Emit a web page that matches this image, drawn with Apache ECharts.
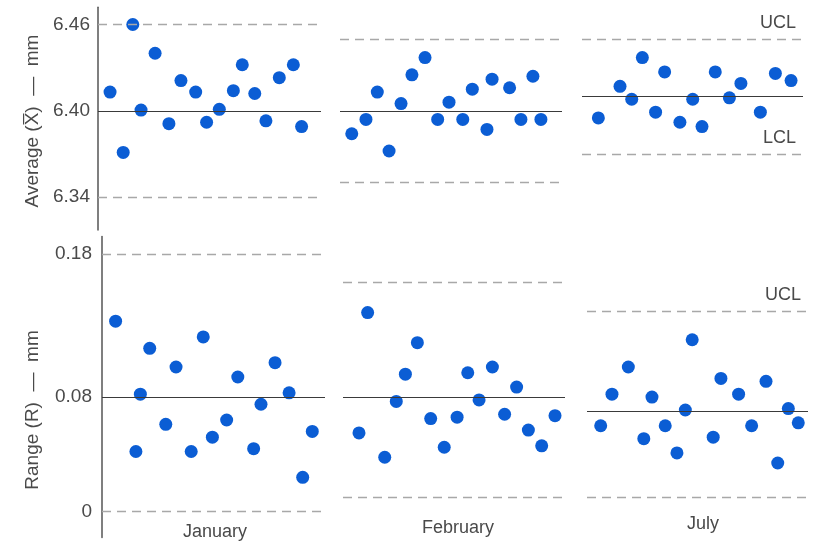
<!DOCTYPE html>
<html>
<head>
<meta charset="utf-8">
<script src="https://cdn.jsdelivr.net/npm/echarts@6/dist/echarts.min.js"></script>
<style>
  html, body { margin: 0; padding: 0; background: #ffffff; }
  #chart { width: 815px; height: 544px; }
</style>
</head>
<body>
<div id="chart"></div>
<script>
// X-bar and R control charts for three months of production.
const months = ['January', 'February', 'July'];
const xbarTicks = [6.34, 6.40, 6.46];
const rangeTicks = [0, 0.08, 0.18];

// Sample positions across each month (percent of the month) and subgroup averages (mm)
const janXbarPos = [5.4, 11.3, 15.6, 19.3, 25.6, 31.8, 37.2, 43.8, 48.7, 54.4, 60.7, 64.7, 70.3, 75.3, 81.3, 87.6, 91.3];
const janXbar    = [6.413, 6.371, 6.460, 6.4005, 6.440, 6.391, 6.421, 6.413, 6.392, 6.401, 6.414, 6.432, 6.412, 6.393, 6.423, 6.432, 6.389];
const febXbarPos = [5.3, 11.7, 16.8, 22.1, 27.5, 32.4, 38.3, 44.0, 49.1, 55.3, 59.6, 66.2, 68.5, 76.4, 81.5, 86.9, 90.5];
const febXbar    = [6.384, 6.394, 6.413, 6.372, 6.405, 6.425, 6.437, 6.394, 6.406, 6.394, 6.415, 6.387, 6.422, 6.416, 6.394, 6.424, 6.394];
const julXbarPos = [7.4, 17.2, 22.5, 27.3, 33.3, 37.4, 44.3, 50.1, 54.3, 60.3, 66.7, 71.9, 80.7, 87.5, 94.6];
const julXbar    = [6.395, 6.417, 6.408, 6.437, 6.399, 6.427, 6.392, 6.408, 6.389, 6.427, 6.409, 6.419, 6.399, 6.426, 6.421];

// Subgroup ranges (mm)
const janRangePos = [6.1, 15.2, 17.2, 21.4, 28.6, 33.2, 40.0, 45.4, 49.5, 55.9, 60.9, 68.0, 71.3, 77.6, 83.9, 90.0, 94.3];
const janRange    = [0.133, 0.042, 0.082, 0.114, 0.061, 0.101, 0.042, 0.122, 0.052, 0.064, 0.094, 0.044, 0.075, 0.104, 0.083, 0.024, 0.056];
const febRangePos = [7.2, 11.1, 18.8, 24.0, 28.1, 33.5, 39.5, 45.6, 51.4, 56.2, 61.3, 67.3, 72.8, 78.2, 83.5, 89.5, 95.5];
const febRange    = [0.055, 0.139, 0.038, 0.077, 0.096, 0.118, 0.065, 0.045, 0.066, 0.097, 0.078, 0.101, 0.068, 0.087, 0.057, 0.046, 0.067];
const julRangePos = [6.2, 11.3, 18.7, 25.7, 29.4, 35.4, 40.7, 44.5, 47.6, 57.1, 60.6, 68.6, 74.5, 81.0, 86.3, 91.1, 95.6];
const julRange    = [0.060, 0.082, 0.101, 0.051, 0.080, 0.060, 0.041, 0.071, 0.120, 0.052, 0.093, 0.082, 0.060, 0.091, 0.034, 0.072, 0.062];

// Control limits per month: [UCL, centre line, LCL]
const janXbarLimits  = [6.460, 6.400, 6.340];
const febXbarLimits  = [6.452, 6.403, 6.352];
const julXbarLimits  = [6.449, 6.407, 6.369];
const janRangeLimits = [0.180, 0.082, 0.000];
const febRangeLimits = [0.164, 0.078, 0.006];
const julRangeLimits = [0.139, 0.070, 0.013];

const TEXT = '#4a4a4a';
const FONT = 'Liberation Sans, Arial, Helvetica, sans-serif';
const DOT = '#0b5dd4';

const panels = [
  { pos: janXbarPos,  vals: janXbar,  lim: janXbarLimits,  row: 0, labels: [false, false] },
  { pos: febXbarPos,  vals: febXbar,  lim: febXbarLimits,  row: 0, labels: [false, false] },
  { pos: julXbarPos,  vals: julXbar,  lim: julXbarLimits,  row: 0, labels: [true, true] },
  { pos: janRangePos, vals: janRange, lim: janRangeLimits, row: 1, labels: [false, false] },
  { pos: febRangePos, vals: febRange, lim: febRangeLimits, row: 1, labels: [false, false] },
  { pos: julRangePos, vals: julRange, lim: julRangeLimits, row: 1, labels: [true, false] }
];

const grids = [
  { left: 98,  top: 7.25,  width: 223, height: 222.85 },
  { left: 340, top: 7.25,  width: 222, height: 222.85 },
  { left: 582, top: 7.25,  width: 221, height: 222.85 },
  { left: 102, top: 236.6, width: 223, height: 300.9 },
  { left: 343, top: 236.6, width: 222, height: 300.9 },
  { left: 587, top: 236.6, width: 221, height: 300.9 }
];

const rowAxis = [
  { min: 6.317, max: 6.472, ticks: xbarTicks, fmt: v => v.toFixed(2) },
  { min: -0.018, max: 0.192, ticks: rangeTicks, fmt: v => (v === 0 ? '0' : v.toFixed(2)) }
];

const xAxes = grids.map((g, i) => ({
  type: 'value', gridIndex: i, min: 0, max: 100, show: false
}));

const yAxes = panels.map((p, i) => {
  const ax = rowAxis[p.row];
  const first = i % 3 === 0;
  return {
    type: 'value', gridIndex: i, min: ax.min, max: ax.max, show: first,
    axisLine: { show: first, lineStyle: { color: '#555', width: 1.5 } },
    axisTick: { show: false },
    splitLine: { show: false },
    axisLabel: {
      show: first, customValues: ax.ticks, formatter: ax.fmt,
      color: TEXT, fontFamily: FONT, fontSize: 19, margin: p.row === 0 ? 8 : 10
    }
  };
});

function limitLine(value, dashed, text) {
  const item = {
    yAxis: value,
    lineStyle: dashed
      ? { type: [9, 6], color: '#a8a8a8', width: 1.3 }
      : { type: 'solid', color: '#3a3a3a', width: 1.2 }
  };
  item.label = text
    ? { show: true, formatter: text, position: 'insideEndTop', distance: 7,
        color: TEXT, fontFamily: FONT, fontSize: 18 }
    : { show: false };
  return item;
}

const series = panels.map((p, i) => ({
  type: 'scatter',
  xAxisIndex: i, yAxisIndex: i,
  symbolSize: 13,
  itemStyle: { color: DOT, opacity: 1 },
  data: p.pos.map((x, k) => [x, p.vals[k]]),
  z: 3,
  markLine: {
    silent: true, symbol: 'none', animation: false,
    data: [
      limitLine(p.lim[0], true, p.labels[0] ? 'UCL' : null),
      limitLine(p.lim[1], false, null),
      limitLine(p.lim[2], true, p.labels[1] ? 'LCL' : null)
    ]
  }
}));

// Month names under the range charts and the two axis titles
const monthSpots = [[215, 532], [458, 528], [703, 524]];
const graphic = months.map((m, i) => ({
  type: 'text', x: monthSpots[i][0], y: monthSpots[i][1],
  style: { text: m, fill: TEXT, font: '18px ' + FONT, align: 'center', verticalAlign: 'middle' }
}));
graphic.push(
  { type: 'text', x: 33, y: 121, rotation: Math.PI / 2,
    style: { text: 'Average (X\u0305)  \u2014  mm', fill: TEXT, font: '19px ' + FONT, align: 'center', verticalAlign: 'middle' } },
  { type: 'text', x: 33, y: 410, rotation: Math.PI / 2,
    style: { text: 'Range (R)  \u2014  mm', fill: TEXT, font: '19px ' + FONT, align: 'center', verticalAlign: 'middle' } }
);

const chart = echarts.init(document.getElementById('chart'), null, { renderer: 'canvas' });
chart.setOption({
  backgroundColor: '#ffffff',
  animation: false,
  grid: grids,
  xAxis: xAxes,
  yAxis: yAxes,
  series: series,
  graphic: graphic
});
</script>
</body>
</html>
